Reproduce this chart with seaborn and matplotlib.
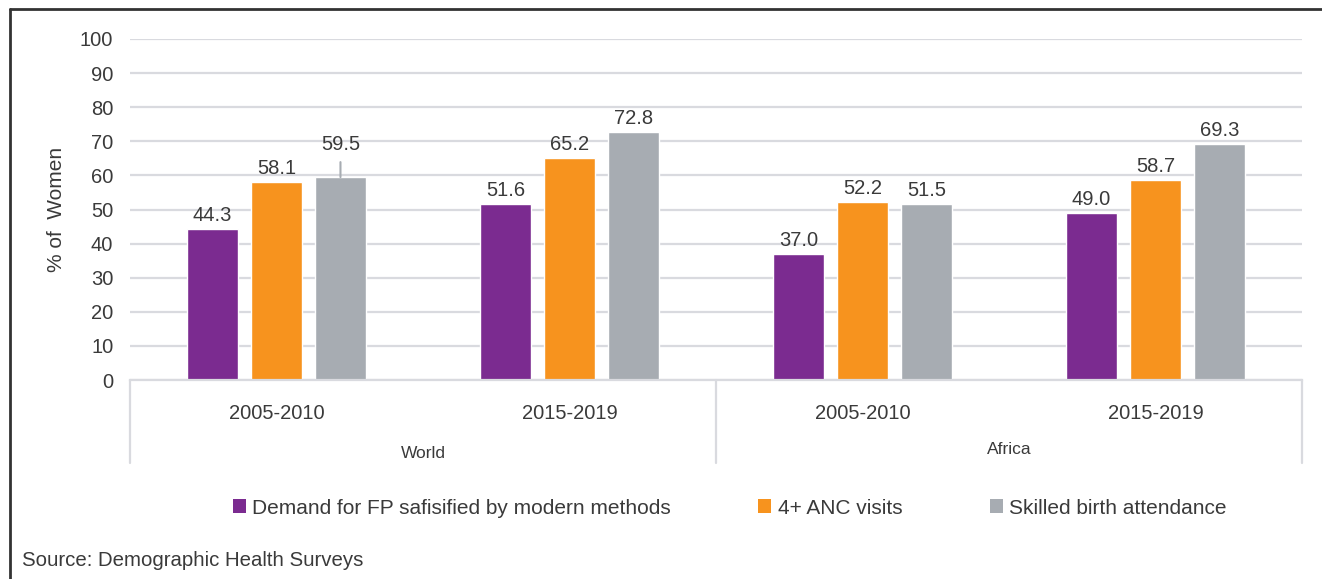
import matplotlib
matplotlib.use("Agg")
import matplotlib.pyplot as plt
import matplotlib.transforms as mtransforms
from matplotlib.lines import Line2D
from matplotlib.patches import Patch
import seaborn as sns
import pandas as pd

# ---- data ----
regions = ["World", "World", "Africa", "Africa"]
periods = ["2005-2010", "2015-2019", "2005-2010", "2015-2019"]
indicators = ["Demand for FP safisified by modern methods", "4+ ANC visits", "Skilled birth attendance"]
demand_fp = [44.3, 51.6, 37.0, 49.0]
anc_visits = [58.1, 65.2, 52.2, 58.7]
skilled_birth = [59.5, 72.8, 51.5, 69.3]
colors = ["#7B2B90", "#F7931E", "#A7ACB2"]
source_text = "Source: Demographic Health Surveys"

cats = [f"{r} {p}" for r, p in zip(regions, periods)]
rows = []
for name, vals in zip(indicators, [demand_fp, anc_visits, skilled_birth]):
    for c, v in zip(cats, vals):
        rows.append({"cat": c, "value": v, "indicator": name})
df = pd.DataFrame(rows)

sns.set_theme(style="white")
plt.rcParams["font.family"] = ["Liberation Sans", "DejaVu Sans"]
txt = "#3a3a3a"
grid_c = "#D9DADF"

fig = plt.figure(figsize=(13.22, 5.79), dpi=100)
W, H = 1322, 579
ax = fig.add_axes([130 / W, 1 - 380 / H, (1302 - 130) / W, (380 - 39) / H])

sns.barplot(data=df, x="cat", y="value", hue="indicator", order=cats,
            hue_order=indicators, palette=colors, saturation=1,
            width=0.655, gap=0.2, legend=False, ax=ax)

ax.set_ylim(0, 100)
ax.set_yticks(range(0, 101, 10))
ax.yaxis.grid(True, color=grid_c, lw=1.6)
ax.set_axisbelow(True)
for s in ["left", "right", "top"]:
    ax.spines[s].set_visible(False)
ax.spines["bottom"].set_color(grid_c)
ax.spines["bottom"].set_linewidth(1.6)
ax.tick_params(axis="y", length=0, pad=12, labelsize=14.5, labelcolor=txt)
ax.tick_params(axis="x", length=0, pad=17, labelsize=14.5, labelcolor=txt)
ax.set_xticks(range(len(cats)))
ax.set_xticklabels(periods)
ax.set_xlabel("")
ax.set_ylabel("% of  Women", fontsize=15, color=txt, labelpad=10)

# data labels
for ci, cont in enumerate(ax.containers):
    for bi, patch in enumerate(cont):
        h = patch.get_height()
        xc = patch.get_x() + patch.get_width() / 2
        pad = 4
        if ci == 2 and bi == 0:
            pad = 23
            ax.annotate("", xy=(xc, h), xytext=(0, 15), textcoords="offset pixels",
                        xycoords="data",
                        arrowprops=dict(arrowstyle="-", color="#A7ACB2", lw=1.5,
                                        shrinkA=0, shrinkB=0))
        ax.annotate(f"{h:.1f}", xy=(xc, h), xytext=(0, pad), textcoords="offset pixels",
                    ha="center", va="bottom", fontsize=14.5, color=txt)

# category axis separators
trans = mtransforms.blended_transform_factory(ax.transData, ax.transAxes)
depth = -(463 - 380) / (380 - 39)
for xpos in [-0.5, 1.5, 3.5]:
    ax.add_line(Line2D([xpos, xpos], [0, depth], transform=trans, color=grid_c,
                       lw=1.6, clip_on=False))

group_names = []
group_pos = []
for i, r in enumerate(regions):
    if r not in group_names:
        group_names.append(r)
        group_pos.append([i])
    else:
        group_pos[group_names.index(r)].append(i)
for name, idx, ypix in zip(group_names, group_pos, [453, 449]):
    xc = sum(idx) / len(idx)
    ax.text(xc, -(ypix - 380) / (380 - 39), name, transform=trans, ha="center",
            va="center", fontsize=12.5, color=txt)

# legend
handles = [Patch(facecolor=c, edgecolor="none") for c in colors]
fig.legend(handles, indicators, loc="center", bbox_to_anchor=(0.552, 1 - 508 / H),
           ncol=3, frameon=False, fontsize=15, handlelength=0.62, handleheight=0.62,
           handletextpad=0.3, columnspacing=4.2, labelcolor=txt)

fig.text(22 / W, 1 - 561 / H, source_text, ha="left", va="center", fontsize=14.7, color=txt)

# outer frame (top and left)
fig.add_artist(Line2D([10 / W, 1], [1 - 9 / H, 1 - 9 / H], transform=fig.transFigure,
                      color="#333333", lw=2))
fig.add_artist(Line2D([10 / W, 10 / W], [0, 1 - 9 / H], transform=fig.transFigure,
                      color="#333333", lw=2))

fig.savefig("out.png", dpi=100, facecolor="white")
